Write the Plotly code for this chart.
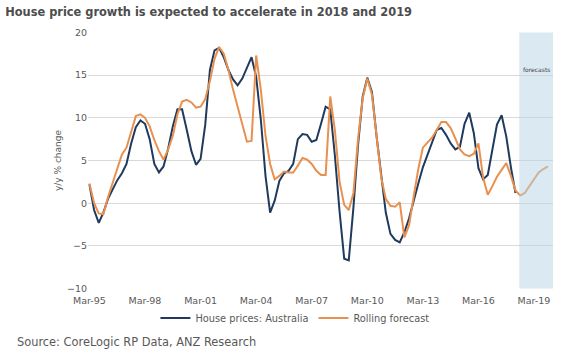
import pandas as pd
import plotly.graph_objects as go

# Quarterly, starting Mar-95
house_prices = [
    2.2, -0.8, -2.3, -1.1, 0.5, 1.6, 2.7, 3.5, 4.6, 7.0,
    8.9, 9.7, 9.3, 7.5, 4.6, 3.6, 4.3, 6.4, 9.0, 11.0,
    11.0, 8.6, 6.1, 4.5, 5.2, 9.2, 15.6, 17.9, 18.2, 17.1,
    15.6, 14.5, 13.8, 14.6, 15.8, 17.1, 14.8, 9.8, 3.2, -1.1,
    0.3, 2.6, 3.5, 3.8, 4.6, 7.5, 8.1, 8.0, 7.2, 7.4,
    9.3, 11.3, 11.0, 5.5, -1.0, -6.5, -6.7, -0.5, 6.9, 12.5,
    14.7, 13.0, 7.8, 3.0, -1.1, -3.6, -4.3, -4.6, -3.4, -1.8,
    0.4, 2.3, 4.2, 5.6, 7.2, 8.6, 8.8, 8.0, 7.0, 6.3,
    6.6, 9.3, 10.6, 8.2, 4.1, 2.8, 3.3, 6.5, 9.2, 10.3,
    7.8, 4.2, 1.2,
]

rolling_forecast = [
    2.3, 0.0, -1.2, -1.3, 0.7, 2.3, 3.9, 5.7, 6.5, 8.5,
    10.2, 10.4, 10.0, 9.0, 7.4, 6.1, 5.1, 6.3, 7.9, 10.4,
    11.9, 12.1, 11.8, 11.2, 11.3, 12.2, 14.3, 16.9, 18.3, 17.5,
    15.6, 13.3, 11.2, 9.0, 7.2, 7.3, 17.3, 13.3, 7.9, 4.6,
    2.8, 3.2, 3.7, 3.6, 3.6, 4.4, 5.3, 5.1, 4.6, 3.8,
    3.3, 3.3, 12.5, 8.5, 2.5, -0.2, -0.8, 1.2, 7.6, 12.3,
    14.6, 12.7, 8.0, 3.0, 0.5, -0.3, -0.4, 0.1, -4.0, -2.6,
    0.8, 4.0, 6.5, 7.1, 7.7, 8.6, 9.5, 9.5, 8.8, 7.6,
    6.3, 5.7, 5.5, 5.8, 7.0, 3.0, 1.0, 2.0, 3.1, 3.9,
    4.7, 3.2, 1.5, 0.9, 1.2, 2.0, 2.8, 3.6, 4.0, 4.3,
]

dates = pd.date_range("1995-03-01", periods=len(rolling_forecast), freq="3MS")
dates_hp = dates[: len(house_prices)]

y_ticks = [-10, -5, 0, 5, 10, 15, 20]
forecast_start = "2018-05-15"
x_end = "2020-03-10"

BLUE = "#1f3a5c"
ORANGE = "#e8904f"
GREY = "#595959"
FONT = "DejaVu Sans"

fig = go.Figure()
fig.add_trace(go.Scatter(
    x=dates_hp, y=house_prices, mode="lines", name="House prices: Australia",
    line=dict(color=BLUE, width=2),
))
fig.add_trace(go.Scatter(
    x=dates, y=rolling_forecast, mode="lines", name="Rolling forecast",
    line=dict(color=ORANGE, width=2),
))

fig.add_shape(
    type="rect", xref="x", yref="y",
    x0=forecast_start, x1=x_end, y0=-10, y1=20,
    fillcolor="rgba(183,211,230,0.5)", line=dict(width=0), layer="above",
)
fig.add_annotation(
    x="2019-04-10", y=15.7, xref="x", yref="y", text="forecasts",
    showarrow=False, font=dict(family=FONT, size=6, color="#404040"),
)
fig.add_annotation(
    x=-0.157, y=-0.206, xref="paper", yref="paper", xanchor="left", yanchor="middle",
    text="Source: CoreLogic RP Data, ANZ Research", showarrow=False,
    font=dict(family=FONT, size=11.4, color=GREY),
)

fig.update_layout(
    width=580, height=352,
    margin=dict(l=88, r=27, t=32, b=63),
    paper_bgcolor="white", plot_bgcolor="white",
    font=dict(family=FONT, size=9.5, color=GREY),
    title=dict(
        text="<b>House price growth is expected to accelerate in 2018 and 2019</b>",
        x=0.009, xref="container", xanchor="left",
        y=0.965, yref="container", yanchor="middle",
        font=dict(family=FONT, size=11.4, color="#4d4d4d"),
    ),
    showlegend=True,
    legend=dict(
        orientation="h", x=0.445, xanchor="center", y=-0.113, yanchor="middle",
        font=dict(family=FONT, size=9.8, color=GREY), itemwidth=30,
        bgcolor="rgba(0,0,0,0)",
    ),
)
fig.update_xaxes(
    type="date", range=["1995-02-01", x_end],
    tick0="1995-03-01", dtick="M36", tickformat="%b-%y",
    showgrid=False, zeroline=False, showline=False, ticks="",
    ticklabelstandoff=4,
    tickfont=dict(family=FONT, size=9.5, color=GREY),
)
fig.update_yaxes(
    range=[-10.05, 20.05], tickvals=y_ticks,
    showgrid=True, gridcolor="#d9d9d9", gridwidth=1,
    zeroline=False, showline=False, ticks="",
    title=dict(text="y/y % change", standoff=3, font=dict(family=FONT, size=9, color=GREY)),
    tickfont=dict(family=FONT, size=9.5, color=GREY),
)

fig.write_html("out.html")
